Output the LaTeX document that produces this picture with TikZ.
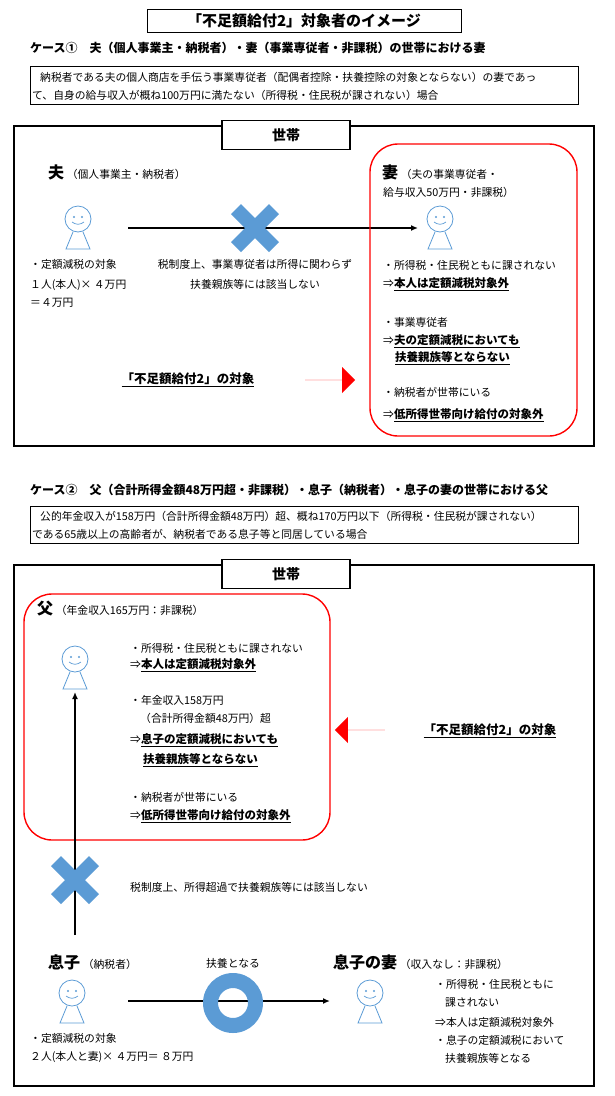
\documentclass[tikz,border=0pt]{standalone}
\usepackage{fontspec}
\setmainfont{Noto Sans CJK JP}
\usetikzlibrary{shapes.arrows,arrows.meta}
\definecolor{bl}{HTML}{5B9BD5}
\definecolor{rd}{HTML}{FF0000}
\newcommand{\personicon}[3]{%
\coordinate (#3) at (#1,#2);
\draw[bl,line width=0.8pt] (#1,#2-7) circle[radius=13];
\fill[bl] (#1-4,#2-9) circle[radius=1.2] (#1+4,#2-9) circle[radius=1.2];
\draw[bl,line width=0.7pt] (#1-6,#2-4) .. controls (#1-2,#2-1) and (#1+2,#2-1) .. (#1+6,#2-4);
\draw[bl,line width=0.8pt] (#1-5,#2+6) -- (#1-12,#2+23) -- (#1+12,#2+23) -- (#1+5,#2+6);}
\newcommand{\crossmark}[3]{%
\coordinate (#3) at (#1,#2);
\fill[bl] (#1,#2) ++(-24,-14) -- ++(10,-10) -- ++(14,14) -- ++(14,-14) -- ++(10,10) -- ++(-14,14) -- ++(14,14) -- ++(-10,10) -- ++(-14,-14) -- ++(-14,14) -- ++(-10,-10) -- ++(14,-14) -- cycle;}
\newcommand{\ub}[1]{\underline{\bfseries\fontsize{11.5}{13}\selectfont #1}}
\tikzset{
 t/.style={anchor=west,inner sep=0pt,font=\fontsize{10.8}{12}\selectfont},
 tb/.style={t,font=\fontsize{12}{14}\selectfont\bfseries},
 big/.style={anchor=west,inner sep=0pt,font=\fontsize{16}{18}\selectfont\bfseries},
 outer/.style={draw,line width=1.6pt},
 tab/.style={draw,line width=1.6pt,fill=white,minimum width=128pt,minimum height=29pt,font=\fontsize{14}{16}\selectfont\bfseries,inner sep=0pt},
 rbox/.style={draw=rd,line width=1.4pt,rounded corners=28pt},
 arr/.style={line width=1.4pt,-{Latex[length=7pt,width=6pt]}},
 redarr/.style={single arrow,fill=rd,minimum width=26pt,single arrow head extend=12pt,minimum height=50pt,inner sep=0pt,single arrow head indent=0pt},
 obj/.style={anchor=center,font=\fontsize{12.5}{14}\selectfont\bfseries}
}
\begin{document}
\begin{tikzpicture}[x=1pt,y=-1pt]
\useasboundingbox (0,0) rectangle (615,1096);
\node[draw,line width=0.8pt,minimum width=314pt,minimum height=23pt,inner sep=0pt,font=\fontsize{15}{17}\selectfont\bfseries] (title) at (304,21) {「不足額給付2」対象者のイメージ};
\node[tb] (c1) at (30,48) {ケース①　夫（個人事業主・納税者）・妻（事業専従者・非課税）の世帯における妻};
\draw[line width=0.8pt] (30,66) rectangle (578,104);
\node[t] (c1a) at (40,77) {納税者である夫の個人商店を手伝う事業専従者（配偶者控除・扶養控除の対象とならない）の妻であっ};
\node[t] (c1b) at (32,95) {て、自身の給与収入が概ね100万円に満たない（所得税・住民税が課されない）場合};
\draw[outer] (14,126) rectangle (594,446);
\node[tab] (tab1) at (286,135) {世帯};
\node[big] (otto) at (48,172) {夫\,{\fontsize{10.8}{12}\selectfont\mdseries （個人事業主・納税者）}};
\personicon{78}{226}{p1}
\personicon{440}{226}{p2}
\coordinate (a1s) at (128,228); \coordinate (a1e) at (418,228);
\draw[arr] (a1s) -- (a1e);
\crossmark{255}{228}{x1}
\node[t] at (30,264) {・定額減税の対象};
\node[t] at (30,285) {１人(本人)× ４万円};
\node[t] at (30,303) {＝４万円};
\node[t,anchor=center] at (255,264) {税制度上、事業専従者は所得に関わらず};
\node[t,anchor=center] at (255,284) {扶養親族等には該当しない};
\draw[rbox] (370,144) rectangle (577,436);
\node[big] (tsuma) at (382,172) {妻\,{\fontsize{10.8}{12}\selectfont\mdseries （夫の事業専従者・}};
\node[t] at (383,192) {給与収入50万円・非課税）};
\node[t] at (383,265) {・所得税・住民税ともに課されない};
\node[t] at (383,284) {⇒\ub{本人は定額減税対象外}};
\node[t] at (383,322) {・事業専従者};
\node[t] at (383,341) {⇒\ub{夫の定額減税においても}};
\node[t] at (395,358) {\ub{扶養親族等とならない}};
\node[t] at (383,392) {・納税者が世帯にいる};
\node[t] at (383,415) {⇒\ub{低所得世帯向け給付の対象外}};
\node[obj] (obj1) at (188,380) {\underline{「不足額給付2」の対象}};
\node[redarr,shape border rotate=0] (ra1) at (330,380) {};
\node[tb] (c2) at (30,490) {ケース②　父（合計所得金額48万円超・非課税）・息子（納税者）・息子の妻の世帯における父};
\draw[line width=0.8pt] (30,506) rectangle (578,543);
\node[t] at (40,516) {公的年金収入が158万円（合計所得金額48万円）超、概ね170万円以下（所得税・住民税が課されない）};
\node[t] at (32,534) {である65歳以上の高齢者が、納税者である息子等と同居している場合};
\draw[outer] (14,565) rectangle (594,1086);
\node[tab] (tab2) at (286,574) {世帯};
\draw[rbox] (24,594) rectangle (330,840);
\node[big] (chichi) at (37,609) {父\,{\fontsize{10.8}{12}\selectfont\mdseries （年金収入165万円：非課税）}};
\personicon{75}{666}{p3}
\node[t] at (130,648) {・所得税・住民税ともに課されない};
\node[t] at (130,665) {⇒\ub{本人は定額減税対象外}};
\node[t] at (130,700) {・年金収入158万円};
\node[t] at (140,718) {（合計所得金額48万円）超};
\node[t] at (130,740) {⇒\ub{息子の定額減税においても}};
\node[t] at (143,760) {\ub{扶養親族等とならない}};
\node[t] at (130,797) {・納税者が世帯にいる};
\node[t] at (130,816) {⇒\ub{低所得世帯向け給付の対象外}};
\node[redarr,shape border rotate=180] (ra2) at (360,730) {};
\node[obj] (obj2) at (490,731) {\underline{「不足額給付2」の対象}};
\personicon{72}{1000}{p4}
\coordinate (v1) at (75,935); \coordinate (v2) at (75,692);
\draw[arr] (v1) -- (v2);
\crossmark{75}{880}{x2}
\node[t] at (130,887) {税制度上、所得超過で扶養親族等には該当しない};
\node[big] (musuko) at (48,962) {息子\,{\fontsize{10.8}{12}\selectfont\mdseries （納税者）}};
\node[t] at (30,1038) {・定額減税の対象};
\node[t] at (30,1057) {２人(本人と妻)× ４万円＝ ８万円};
\coordinate (a2s) at (128,1001); \coordinate (a2e) at (330,1001);
\draw[arr] (a2s) -- (a2e);
\fill[bl,even odd rule] (233,1003) circle[radius=30] (233,1003) circle[radius=15];
\node[t,anchor=center] (fuyou) at (233,963) {扶養となる};
\node[big] (yome) at (333,962) {息子の妻\,{\fontsize{10.8}{12}\selectfont\mdseries （収入なし：非課税）}};
\personicon{370}{1000}{p5}
\node[t] at (435,984) {・所得税・住民税ともに};
\node[t] at (445,1003) {課されない};
\node[t] at (435,1022) {⇒本人は定額減税対象外};
\node[t] at (435,1040) {・息子の定額減税において};
\node[t] at (445,1058) {扶養親族等となる};
\end{tikzpicture}
\end{document}
